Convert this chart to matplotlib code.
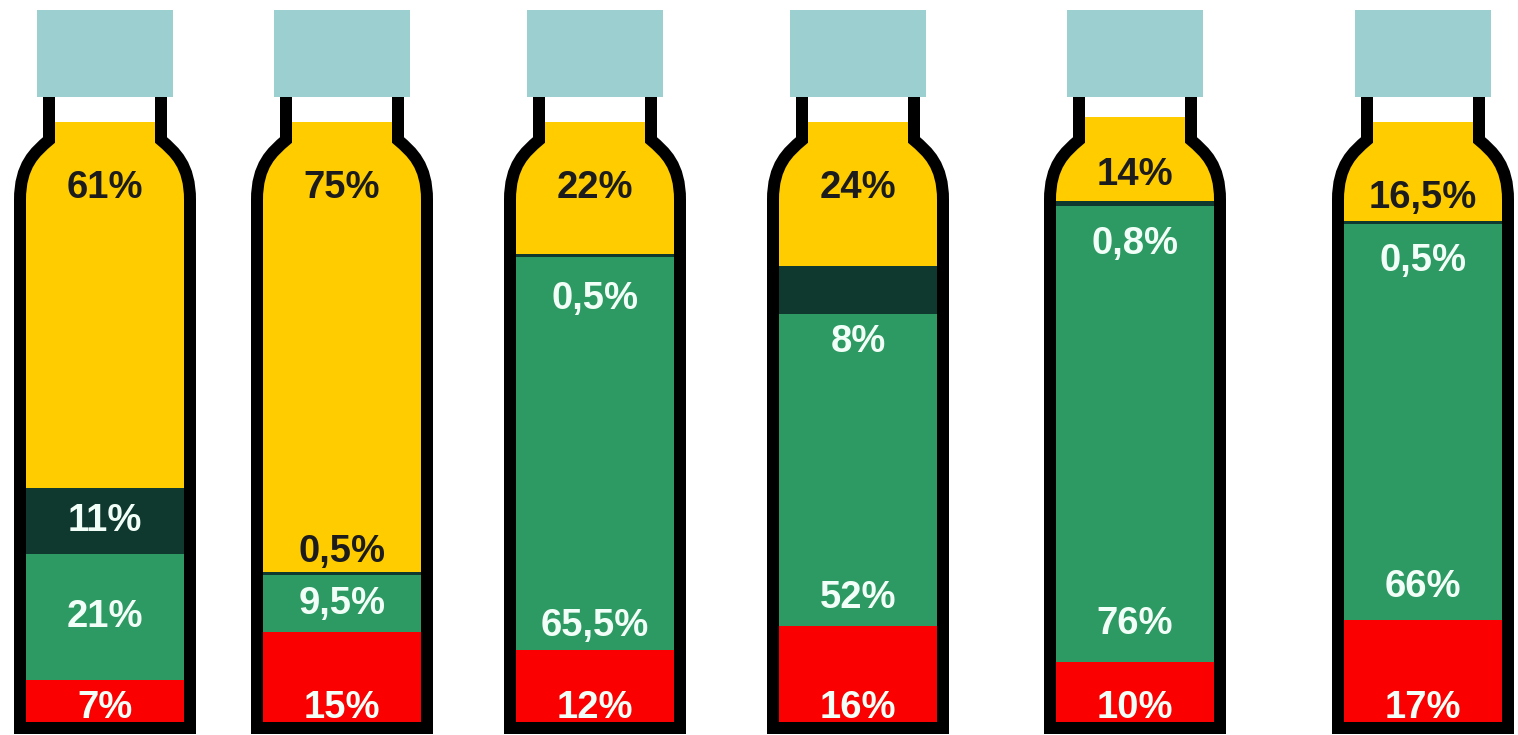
import numpy as np
import matplotlib
matplotlib.use('Agg')
import matplotlib.pyplot as plt
from matplotlib.path import Path
from matplotlib.patches import PathPatch, Rectangle

# shares per bottle, stacked from the bottom up
red = [7, 15, 12, 16, 10, 17]
green = [21, 9.5, 65.5, 52, 76, 66]
dark = [11, 0.5, 0.5, 8, 0.8, 0.5]
yellow = [61, 75, 22, 24, 14, 16.5]

# layout (pixels across, percent up)
centers = [105, 342, 595, 858, 1135, 1423]
lab_y_yellow = [89.0, 89.0, 89.0, 89.0, 91.2, 87.3]
lab_y_dark = [33.5, 28.3, 70.5, 63.3, 79.7, 76.8]
lab_y_green = [17.5, 19.75, 16.0, 20.7, 16.3, 22.5]
lab_y_red = [2.3] * 6
dark_on_yellow = [False, True, False, False, False, False]

C_RED = '#fa0000'
C_GREEN = '#2e9a63'
C_DARK = '#0f382e'
C_YELLOW = '#ffcc00'
C_CAP = '#9ccfcf'
TXT_DARK = '#1c1c1c'
TXT_LIGHT = '#f2fff8'

PX = 6.0      # pixels per percent
BASE = 722    # pixel row of 0 %


def py(p):
    return (BASE - p) / PX


def fmt(v):
    s = ('%g' % v).replace('.', ',')
    return s + '%'


fig = plt.figure(figsize=(15.18, 7.35), dpi=100)
ax = fig.add_axes([0, 0, 1, 1])
ax.set_xlim(0, 1518)
ax.set_ylim(py(735), py(0))
ax.axis('off')

lw = 12 * 72 / 100

for i, cx in enumerate(centers):
    # bottle outline, centre line of the stroke
    left = [(-56, 96), (-56, 140), (-70, 152), (-85, 165), (-85, 200), (-85, 728)]
    right = [(85, 728), (85, 200), (85, 165), (70, 152), (56, 140), (56, 96)]
    codes_l = [Path.MOVETO, Path.LINETO, Path.CURVE4, Path.CURVE4, Path.CURVE4, Path.LINETO]
    codes_r = [Path.LINETO, Path.LINETO, Path.CURVE4, Path.CURVE4, Path.CURVE4, Path.LINETO]
    pts = [(cx + dx, py(y)) for dx, y in left + right]
    outline = Path(pts, codes_l + codes_r)
    clip = Path(pts + [pts[0]], codes_l + codes_r + [Path.CLOSEPOLY])
    clip_patch = PathPatch(clip, transform=ax.transData, facecolor='none', edgecolor='none')
    ax.add_patch(clip_patch)

    bottom = 0
    for vals, col in [(red, C_RED), (green, C_GREEN), (dark, C_DARK), (yellow, C_YELLOW)]:
        bars = ax.bar(cx, vals[i], bottom=bottom, width=190, color=col, zorder=1)
        for b in bars:
            b.set_clip_path(clip_patch)
        bottom += vals[i]

    ax.add_patch(PathPatch(outline, facecolor='none', edgecolor='black', lw=lw,
                           joinstyle='miter', capstyle='butt', zorder=3))
    ax.add_patch(Rectangle((cx - 68, py(97)), 136, py(10) - py(97),
                           facecolor=C_CAP, edgecolor='none', zorder=4))

    tk = dict(ha='center', va='center', fontsize=27.5, fontweight='bold',
              family=['Liberation Sans', 'DejaVu Sans'], zorder=5)
    ax.text(cx, lab_y_yellow[i], fmt(yellow[i]), color=TXT_DARK, **tk)
    ax.text(cx, lab_y_dark[i], fmt(dark[i]),
            color=TXT_DARK if dark_on_yellow[i] else TXT_LIGHT, **tk)
    ax.text(cx, lab_y_green[i], fmt(green[i]), color=TXT_LIGHT, **tk)
    ax.text(cx, lab_y_red[i], fmt(red[i]), color=TXT_LIGHT, **tk)

fig.savefig('out.png', dpi=100)
